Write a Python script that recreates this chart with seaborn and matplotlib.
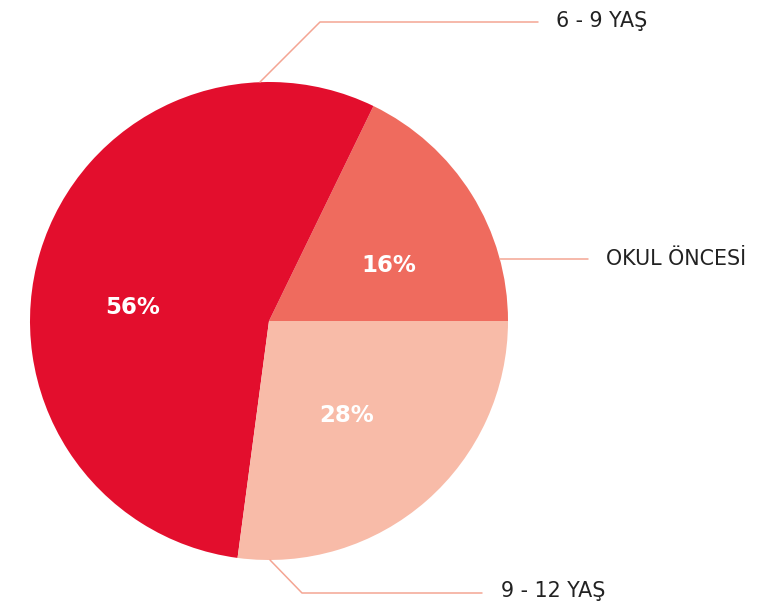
import matplotlib
matplotlib.use("Agg")
import matplotlib.pyplot as plt
import seaborn as sns

groups = ["OKUL ÖNCESİ", "6 - 9 YAŞ", "9 - 12 YAŞ"]
shares = [17.8, 55.1, 27.1]
pct_labels = ["16%", "56%", "28%"]
colors = ["#EF6B5E", "#E30E2D", "#F8BBA8"]

sns.set_style("white")
plt.rcParams['font.family'] = ['DejaVu Sans']

W, H = 777, 604
fig = plt.figure(figsize=(W / 100, H / 100), dpi=100)
ax = fig.add_axes([0, 0, 1, 1])

cx, cy, r = 269, H - 321, 239
ax.pie(shares, colors=colors, startangle=0, counterclock=True,
       center=(cx, cy), radius=r, frame=True,
       wedgeprops=dict(linewidth=0))
ax.set_xlim(0, W)
ax.set_ylim(0, H)
ax.set_aspect("equal")
ax.axis("off")

# percentage labels inside the slices
pct_pos = [(389, 265), (133, 307), (347, 415)]
for txt, (px, py) in zip(pct_labels, pct_pos):
    ax.text(px, H - py, txt, color="white", fontsize=16.5, fontweight="bold",
            ha="center", va="center")

# leader lines and category labels
line_col = "#F4A593"
leaders = [
    ([500, 588], [259, 259], (606, 259)),
    ([260, 320, 538], [82, 22, 22], (556, 21)),
    ([270, 302, 482], [560, 593, 593], (501, 591)),
]
for name, (xs, ys, (tx, ty)) in zip(groups, leaders):
    ax.plot(xs, [H - y for y in ys], color=line_col, lw=1.1)
    ax.text(tx, H - ty, name, color="#222222", fontsize=14.9,
            ha="left", va="center")

fig.savefig("out.png", dpi=100)
